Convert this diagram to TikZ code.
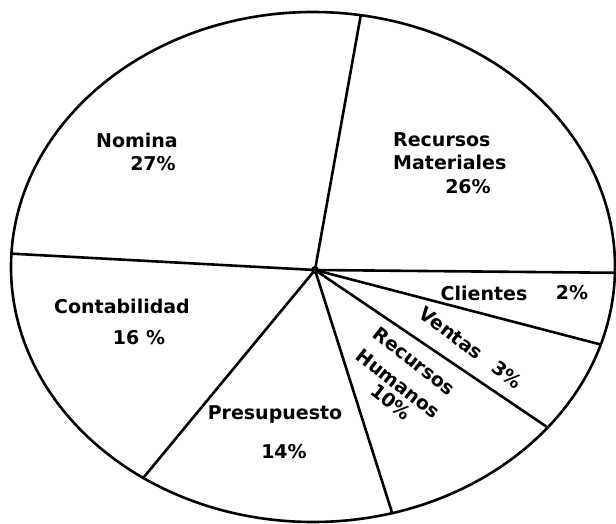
\documentclass[tikz,border=0pt]{standalone}
\usepackage{fontspec}
\setmainfont{DejaVu Sans}
\usetikzlibrary{calc}
\tikzset{
  pie/.style={line width=2.6pt, line cap=round},
  lbl/.style={font=\fontsize{19}{19}\selectfont\bfseries, inner sep=0pt, text=black},
  rlbl/.style={lbl, rotate=-37}
}
\begin{document}
\begin{tikzpicture}[x=1pt,y=1pt]
\useasboundingbox (0,0) rectangle (616,523);
\fill[white] (0,0) rectangle (616,523);
\coordinate (E) at (313,256);
\coordinate (H) at (315,253);
\draw[pie] (E) ellipse [x radius=302pt, y radius=255pt];
\coordinate (eT) at ($(E)+(80.9:302pt and 255pt)$);
\coordinate (eL) at ($(E)+(177:302pt and 255pt)$);
\coordinate (eR) at ($(E)+(-1.3:302pt and 255pt)$);
\coordinate (eCV) at ($(E)+(-17.7:302pt and 255pt)$);
\coordinate (eVR) at ($(E)+(-39:302pt and 255pt)$);
\coordinate (eRP) at ($(E)+(-74.8:302pt and 255pt)$);
\coordinate (ePC) at ($(E)+(-124.2:302pt and 255pt)$);
\foreach \p in {eT,eL,eR,eCV,eVR,eRP,ePC} \draw[pie] (H) -- (\p);
\fill (H) circle (4pt);
% labels
\node[lbl] (nom) at (137,383) {Nomina};
\node[lbl] (nomp) at (153,359) {27\%};
\node[lbl, anchor=west] (rm1) at (393,383) {Recursos};
\node[lbl, anchor=west] (rm2) at (393,361) {Materiales};
\node[lbl] (rmp) at (468,336) {26\%};
\node[lbl] (cli) at (484,230) {Clientes};
\node[lbl] (clip) at (572,230) {2\%};
\node[rlbl] (ven) at (471,175) {Ventas\hspace{17pt}3\%};
\node[rlbl, rotate=-1, align=left] (rh) at (401,143)
  {Recursos\\[9pt]Humanos\\[-0.5pt]\hspace*{33pt}10\%};
\node[lbl] (con) at (122,217) {Contabilidad};
\node[lbl] (conp) at (139,185) {16 \%};
\node[lbl] (pre) at (275,108) {Presupuesto};
\node[lbl] (prep) at (284,71) {14\%};
\end{tikzpicture}
\end{document}
